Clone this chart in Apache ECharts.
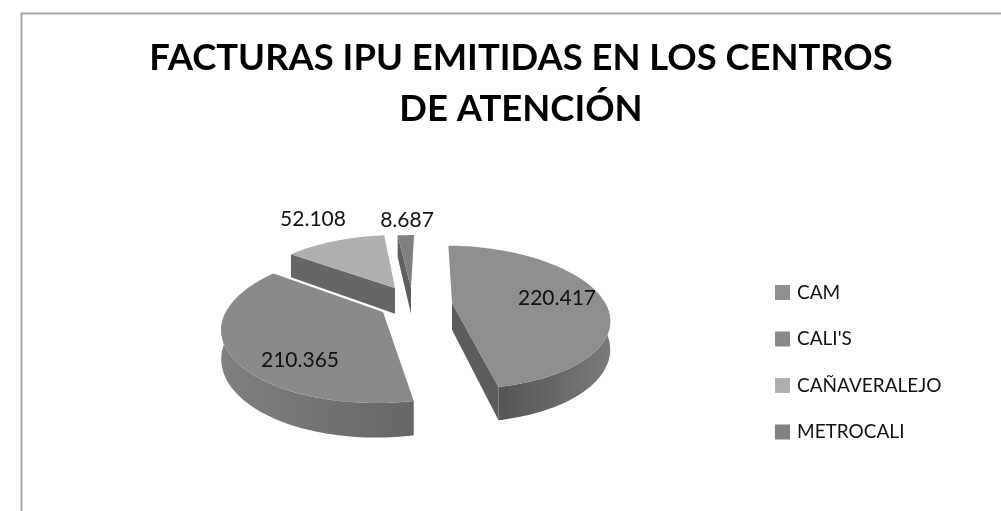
<!DOCTYPE html>
<html>
<head>
<meta charset="utf-8">
<style>
  html, body { margin: 0; padding: 0; background: #fff; }
  #chart { width: 1001px; height: 511px; }
</style>
<script src="https://cdn.jsdelivr.net/npm/echarts@6/dist/echarts.min.js"></script>
</head>
<body>
<div id="chart"></div>
<script>
const categories = ['CAM', "CALI'S", 'CAÑAVERALEJO', 'METROCALI'];
const values = [220417, 210365, 52108, 8687];
const valueLabels = ['220.417', '210.365', '52.108', '8.687'];

const topColors = ['#8f8f8f', '#8a8a8a', '#b0b0b0', '#808080'];
// wall gradient runs left to right
const wallColors = [['#555555', '#7a7a7a'], ['#808080', '#666666'], ['#707070', '#707070'], ['#6a6a6a', '#6a6a6a']];
const cutColors = ['#5c5c5c', '#666666', '#666666', '#5f5f5f'];
// which cut face of a slice the viewer sees: 0 start edge, 1 end edge, -1 none
const cutFace = [1, -1, 0, 0];
// where each exploded slice has its tip on the page, and where its label sits
const apexes = [[452, 303], [383, 312], [395, 288], [411, 288]];
const labelSpots = [[557, 298], [300, 360], [313, 219], [407, 220]];

const CX = 410, CY = 305, RX = 154, RY = 69.6, TILT = 0.2, DEPTH = 27;
const total = values.reduce((a, b) => a + b, 0);

// the picture's view is skewed, so angles get pushed sideways a bit
const viewAngle = a =>
  a + (17.7 * Math.sin(a) - 3.2 * Math.sin(2 * a) + 1.5 * Math.max(0, Math.cos(a)) ** 4) * Math.PI / 180;

// plane point -> page, the plane is tilted in perspective around the pie centre
const toPage = (px, pv, drop) => {
  const w = 1 - TILT * pv;
  return [CX + RX * px / w, CY + RY * pv / w + drop / w];
};

// page tip of a slice -> plane point
const toPlane = apex => {
  const t = (apex[1] - CY) / RY;
  const pv = t / (1 + TILT * t);
  return [(apex[0] - CX) / RX * (1 - TILT * pv), pv];
};

const rimPoint = (tip, angle, drop) =>
  toPage(tip[0] + Math.sin(angle), tip[1] - Math.cos(angle), drop);

const arcPoints = (tip, a0, a1, drop) => {
  const pts = [];
  const n = Math.max(4, Math.ceil((a1 - a0) * 40));
  for (let i = 0; i <= n; i++) pts.push(rimPoint(tip, a0 + (a1 - a0) * i / n, drop));
  return pts;
};

const sliceRenderer = idx => (params, api) => {
  const before = values.slice(0, idx).reduce((a, b) => a + b, 0);
  const start = before / total * Math.PI * 2;
  const a0 = viewAngle(start);
  const a1 = viewAngle(start + api.value(0) / total * Math.PI * 2);
  const tip = toPlane(apexes[idx]);
  const apex = toPage(tip[0], tip[1], 0);
  const children = [];

  if (cutFace[idx] >= 0) {
    const a = cutFace[idx] === 0 ? a0 : a1;
    children.push({
      type: 'polygon',
      shape: { points: [apex, rimPoint(tip, a, 0), rimPoint(tip, a, DEPTH), toPage(tip[0], tip[1], DEPTH)] },
      style: { fill: cutColors[idx] }
    });
  }

  // outer wall, the front half of the rim
  const lo = Math.max(a0, Math.PI / 2), hi = Math.min(a1, Math.PI * 1.5);
  if (hi > lo) {
    const rim = arcPoints(tip, lo, hi, 0);
    const low = arcPoints(tip, lo, hi, DEPTH).reverse();
    children.push({
      type: 'polygon',
      shape: { points: rim.concat(low) },
      style: {
        fill: new echarts.graphic.LinearGradient(0, 0, 1, 0, [
          { offset: 0, color: wallColors[idx][0] },
          { offset: 1, color: wallColors[idx][1] }
        ])
      }
    });
  }

  // top face
  children.push({
    type: 'polygon',
    shape: { points: [apex].concat(arcPoints(tip, a0, a1, 0)) },
    style: { fill: topColors[idx] }
  });

  children.push({
    type: 'text',
    x: labelSpots[idx][0],
    y: labelSpots[idx][1],
    style: {
      text: valueLabels[idx],
      fill: '#111',
      font: '21px Lato',
      textAlign: 'center',
      textVerticalAlign: 'middle'
    }
  });

  return { type: 'group', children };
};

const chart = echarts.init(document.getElementById('chart'), null, { renderer: 'canvas' });

chart.setOption({
  animation: false,
  backgroundColor: '#fff',
  title: {
    text: 'FACTURAS IPU EMITIDAS EN LOS CENTROS\nDE ATENCIÓN',
    left: 516,
    top: 28,
    textAlign: 'center',
    textStyle: { fontFamily: 'Lato', fontWeight: 'bold', fontSize: 36.4, lineHeight: 51, color: '#000' }
  },
  legend: {
    orient: 'vertical',
    left: 775,
    top: 283,
    padding: 0,
    itemWidth: 15,
    itemHeight: 15,
    itemGap: 27.5,
    icon: 'rect',
    data: categories,
    textStyle: { fontFamily: 'Lato', fontSize: 19, color: '#111', padding: [0, 0, 0, 2] }
  },
  graphic: [{
    type: 'polyline',
    shape: { points: [[21.5, 511], [21.5, 13.5], [1001, 13.5]] },
    style: { stroke: '#a6a6a6', lineWidth: 2, fill: null }
  }],
  series: categories.map((name, i) => ({
    name,
    type: 'custom',
    coordinateSystem: 'none',
    renderItem: sliceRenderer(i),
    itemStyle: { color: topColors[i] },
    data: [[values[i]]]
  }))
});
</script>
</body>
</html>
